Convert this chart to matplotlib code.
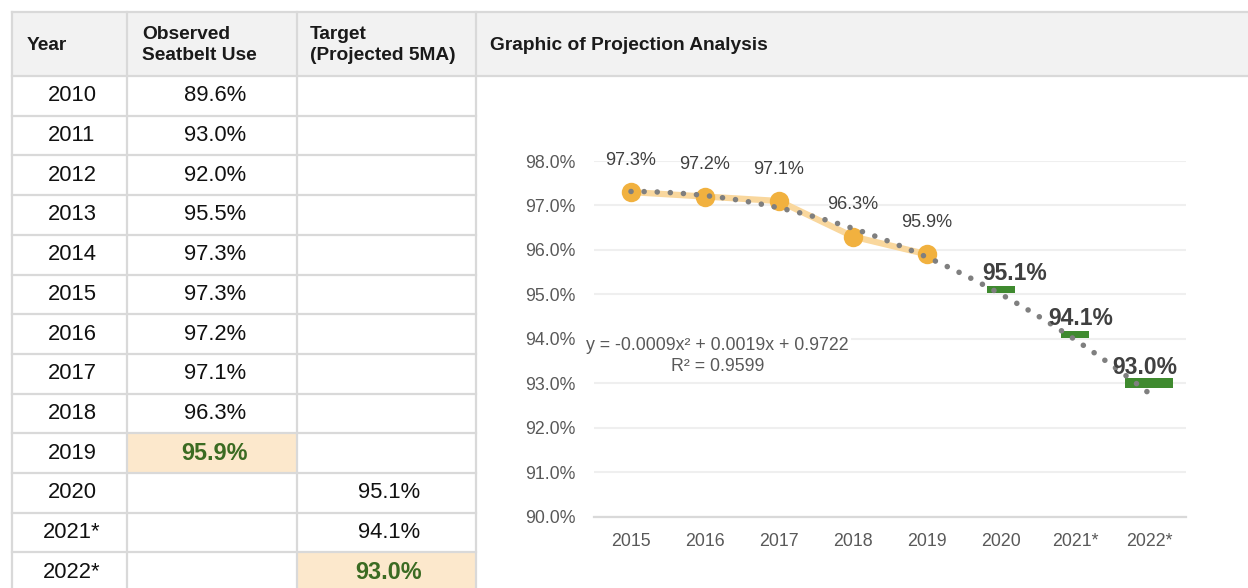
import numpy as np
import matplotlib.pyplot as plt

plt.rcParams['font.family'] = ['Liberation Sans', 'DejaVu Sans']

# table data
years = ['2010', '2011', '2012', '2013', '2014', '2015', '2016', '2017', '2018',
         '2019', '2020', '2021*', '2022*']
observed = [89.6, 93.0, 92.0, 95.5, 97.3, 97.3, 97.2, 97.1, 96.3, 95.9, None, None, None]
target = [None, None, None, None, None, None, None, None, None, None, 95.1, 94.1, 93.0]
headers = ['Year', 'Observed\nSeatbelt Use', 'Target\n(Projected 5MA)', 'Graphic of Projection Analysis']
highlight = {(9, 1), (12, 2)}

# chart data
chart_years = ['2015', '2016', '2017', '2018', '2019', '2020', '2021*', '2022*']
chart_observed = [97.3, 97.2, 97.1, 96.3, 95.9]
chart_target = [95.1, 94.1, 93.0]
trend_label = 'y = -0.0009x² + 0.0019x + 0.9722\nR² = 0.9599'

W, H = 1248, 588
fig = plt.figure(figsize=(W / 100, H / 100), dpi=100)

# ---- table drawn in pixel coords
tab = fig.add_axes([0, 0, 1, 1])
tab.set_xlim(0, W)
tab.set_ylim(H, 0)
tab.axis('off')

col_x = [12, 127, 297, 476, W]
top, head_bot, row_h = 12, 76, 39.7
line_c = '#d9d9d9'

tab.add_patch(plt.Rectangle((12, top), W - 12, head_bot - top, color='#f2f2f2', lw=0))
for r, c in highlight:
    tab.add_patch(plt.Rectangle((col_x[c], head_bot + r * row_h), col_x[c + 1] - col_x[c], row_h,
                                color='#fce8cc', lw=0))

tab.plot([12, W], [top, top], color=line_c, lw=1.6)
tab.plot([12, W], [head_bot, head_bot], color=line_c, lw=1.6)
for i in range(1, len(years) + 1):
    y = head_bot + i * row_h
    tab.plot([12, col_x[3]], [y, y], color=line_c, lw=1.6)
for x in col_x[:4]:
    tab.plot([x, x], [top, H], color=line_c, lw=1.6)

pads = [15, 15, 13, 14]
for i, h in enumerate(headers):
    tab.text(col_x[i] + pads[i], (top + head_bot) / 2 + 1, h, ha='left', va='center',
             fontsize=13.8, fontweight='bold', color='#1a1a1a', linespacing=1.25)

centers = [72, 215, 389]
for r, yr in enumerate(years):
    yc = head_bot + r * row_h + row_h / 2
    tab.text(centers[0], yc, yr, ha='center', va='center', fontsize=15.8, color='#111111')
    for c, vals in [(1, observed), (2, target)]:
        v = vals[r]
        if v is None:
            continue
        if (r, c) in highlight:
            tab.text(centers[c], yc, f'{v:.1f}%', ha='center', va='center', fontsize=16.8,
                     fontweight='bold', color='#3b6b22')
        else:
            tab.text(centers[c], yc, f'{v:.1f}%', ha='center', va='center', fontsize=15.8,
                     color='#111111')

# ---- chart
ax = fig.add_axes([594 / W, (H - 516.5) / H, 592 / W, 355.5 / H])
ax.patch.set_alpha(0)
x = np.arange(len(chart_years))
xo = x[:len(chart_observed)]
xt = x[len(chart_observed):]

ax.plot(xo, chart_observed, color='#f9d79d', lw=4.5, zorder=2, solid_capstyle='round')
ax.plot(xo, chart_observed, 'o', ms=14, color='#f1b13f', mec='none', zorder=3)

bar_w = [0.39, 0.39, 0.64]
bar_h = [0.16, 0.16, 0.23]
ax.bar(xt, bar_h, width=bar_w, bottom=np.array(chart_target) - np.array(bar_h) / 2,
       color='#3f8a2f', zorder=3)

# excel-style polynomial trendline, order 2, fitted on observed and forecast forward
coef = np.polyfit(xo + 1, np.array(chart_observed) / 100, 2)
xs = np.linspace(1, len(chart_years), 400)
ax.plot(xs - 1, np.polyval(coef, xs) * 100, color='#7f7f7f', lw=4.0,
        ls=(0, (0.01, 2.35)), dash_capstyle='round', zorder=4)

for xi, v in zip(xo, chart_observed):
    ax.annotate(f'{v:.1f}%', (xi, v), xytext=(0, 23), textcoords='offset points',
                ha='center', va='center', fontsize=13, color='#404040', annotation_clip=False)
for xi, v, dx in zip(xt, chart_target, [10, 4, -3]):
    ax.annotate(f'{v:.1f}%', (xi, v), xytext=(dx, 11.5), textcoords='offset points',
                ha='center', va='center', fontsize=16.5, fontweight='bold', color='#404040',
                zorder=5, annotation_clip=False)

ax.text(1.17, 93.62, trend_label, ha='center', va='center', multialignment='center',
        fontsize=12.8, color='#595959', linespacing=1.3, zorder=1,
        bbox=dict(boxstyle='square,pad=0.1', fc='white', ec='none'))

ax.set_xlim(-0.5, len(chart_years) - 0.5)
ax.set_ylim(90, 98)
ax.set_xticks(x)
ax.set_xticklabels(chart_years)
ax.set_yticks(np.arange(90, 98.1, 1))
ax.set_yticklabels([f'{t:.1f}%' for t in np.arange(90, 98.1, 1)])
ax.tick_params(length=0, labelsize=12.8, labelcolor='#595959')
ax.tick_params(axis='y', pad=13)
ax.tick_params(axis='x', pad=12)
for s in ['top', 'right', 'left']:
    ax.spines[s].set_visible(False)
ax.spines['bottom'].set_color('#d9d9d9')
ax.spines['bottom'].set_linewidth(1.6)
ax.yaxis.grid(True, color='#efefef', lw=1.5)
ax.set_axisbelow(True)

fig.savefig('out.png', dpi=100)
